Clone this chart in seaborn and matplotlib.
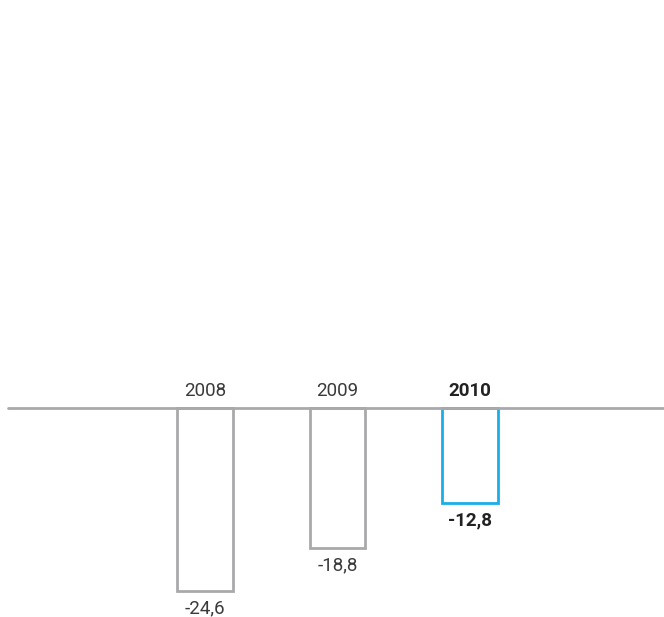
import seaborn as sns
from matplotlib import pyplot as plt
import pandas as pd

# 数据
years = ['2008', '2009', '2010']
values = [-24.6, -18.8, -12.8]
labels = ['-24,6', '-18,8', '-12,8']
colors = ['#a9a9ab', '#a9a9ab', '#19afe6']

sns.set_style('white')
plt.rcParams['font.family'] = ['Roboto', 'DejaVu Sans']

df = pd.DataFrame({'year': years, 'value': values})

fig = plt.figure(figsize=(6.64, 6.17), dpi=100)
ax = fig.add_axes([0, 0, 1, 1])

sns.barplot(data=df, x='year', y='value', hue='year', palette=colors,
            fill=False, width=0.42, linewidth=2, legend=False, ax=ax)
for patch, c in zip(ax.patches, colors):
    patch.set_edgecolor(c)

ax.set_xlim(-205 / 132.5, 459 / 132.5)
ax.set_ylim(-28.1, 54.8)
ax.axhline(0, xmin=8 / 664, xmax=1, color='#a9a9ab', linewidth=2, zorder=3)

for i, (y, v, lab) in enumerate(zip(years, values, labels)):
    w = 'bold' if i == 2 else 'normal'
    c = '#222222' if i == 2 else '#3a3a3a'
    ax.text(i, 1.0, y, ha='center', va='bottom', fontsize=13.5, color=c, fontweight=w)
    ax.text(i, v - 1.1, lab, ha='center', va='top', fontsize=13.5, color=c, fontweight=w)

ax.set_axis_off()
fig.savefig('out.png', dpi=100)
